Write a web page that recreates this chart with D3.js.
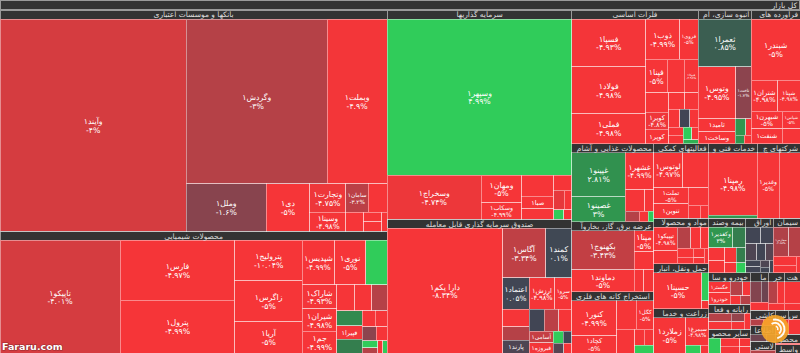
<!DOCTYPE html>
<html><head><meta charset="utf-8">
<script src="https://cdn.jsdelivr.net/npm/d3@7"></script>
<style>
html,body{margin:0;padding:0;background:#333;}
svg{display:block;}
text{font-family:"DejaVu Sans",sans-serif;}
</style></head><body>
<svg id="chart" width="800" height="353"></svg>
<script>
// ---- DATA: [symbol, relative size, % change] ----
const banks = [
 ["وآیند۱",39432,-4],["وگردش۱",23100,-3],["وبملت۱",9900,-4.9],["وملل۱",3760,-1.6],
 ["دی۱",2068,-5],["وتجارت۱",1015,-4.75],["وسینا۱",680,-4.98],["سامان۱",640,-3.2],
 ["",532,-5],["",342,-5],["",170,-5],["",170,-5],["",100,-5]];
const chemicals = [
 ["تاپیکو۱",12876,-4.01],["فارس۱",6549,-4.97],["پترول۱",5772,-4.99],["پترولیج۱",2600,-10.04],
 ["زاگرس۱",2600,-5],["آریا۱",2015,-5],["شپدیس۱",1368,-4.99],["نوری۱",1292,-5],["",912,5],
 ["شاراک۱",806,-4.93],["شیران۱",744,-4.98],["جم۱",713,-4.99],["",442,-5],["",416,-5],
 ["",390,-3],["",364,2.5],["قپیرا۱",323,-4.9],["",323,2],["",204,-5],["",187,-5],["",187,-1.7],
 ["",150,-5],["",100,5],["",80,-3],["",60,-5],["",50,5]];
const investment = [
 ["وسپهر۱",28888,4.99],["وسخراج۱",4171,-4.74],["ومهان۱",1134,-5],["وسکاب۱",672,-4.99],
 ["",672,-5],["صبا۱",400,-5],["",336,-5],["",280,-5],["",200,-4.5],["",150,-5],["",100,5],["",80,-5]];
const etf = [
 ["دارا یکم۱",14012,-8.34],["آگاس۱",2068,-3.34],["کمند۱",1269,0.1],["اعتماد۱",812,0.05],
 ["ارزش۱",783,-4.98],["سرو۱",528,-5],["",464,-5],["",352,-3],["پارند۱",330,-0.3],["",315,0],
 ["",308,-3.2],["",276,-5],["آسامی۱",264,-3.5],["فیروزه۱",242,-4.9],["",120,5],["",100,0],["",100,-0.5],["",80,-5]];
const metals = [
 ["فسپا۱",3504,-4.93],["فولاد۱",3431,-4.98],["فملی۱",2190,-4.98],["ذوب۱",1360,-4.99],
 ["فروی۱",748,-5],["فپنا۱",720,-5],["",578,-5],["فنوکا۱",460,-4.98],["",442,-5],
 ["کویر۱",391,-4.8],["کوپر۱",322,-5],["",260,-5],["",221,-5],["",200,-5],["",182,0],
 ["",150,-5],["",120,-5],["",120,-5],["",100,5],["",80,-5],["",60,4]];
const construction = [
 ["ثعمرا۱",2491,0.85],["وتوس۱",1900,-4.95],["ثاخت۱",800,-1.7],["ثامید۱",476,-5],
 ["وساخت۱",442,-5],["",169,3],["",91,-5],["",70,3],["",60,-5]];
const refinery = [
 ["شبندر۱",3050,-5],["شتران۱",837,-4.98],["شپنا۱",713,-4.98],["شبهرن۱",544,-5],
 ["شنفت۱",480,-5],["شپاس۱",306,-5],["",270,-5]];
const food = [
 ["غپینو۱",2464,2.81],["غصینو۱",1400,3],["غشهر۱",1107,-4.99],["",432,-5],["",200,-5],
 ["",150,-3],["",100,-5],["",60,5]];
const electricity = [
 ["بکهنوج۱",2457,-3.43],["دماوند۱",1386,-5],["مپنا۱",420,-5],["",360,-5],["",220,-5],["",220,-5]];
const mining = [
 ["کنور۱",1564,-4.99],["کچاد۱",782,-5],["",567,-5],["کگل۱",494,-5],["",432,-5],
 ["",150,-5],["",150,-5],["",150,5]];
const support = [
 ["لوتوس۱",990,-4.97],["",875,-5],["تملت۱",544,-5],["تنوین۱",476,-5],["",357,-5],["",150,-5],["",100,-5]];
const techServices = [["رمپنا۱",2940,-4.98],["",120,3]];
const multiSector = [["وغدیر۱",1430,-5],["",1365,-5]];
const pharma = [
 ["تیپیکو۱",792,-4.98],["",450,-5],["",400,-3],["",300,-5],["",250,-5],["",200,-5],
 ["",150,-5],["",150,-5],["",100,-5],["",100,-5]];
const transport = [["حسینا۱",1764,-5],["",196,5],["",56,-5]];
const agriculture = [["زملارد۱",1184,-5],["سیمرغ۱",667,-4.98],["",120,5],["",64,-5]];
const insurance = [
 ["وکغدیر۱",528,3],["",280,2],["",220,-5],["",200,-5],["",180,-5],["",150,2],["",120,-5],["",100,5]];
const bonds = [
 ["",300,0],["",250,0],["",220,-0.3],["",180,0],["",150,-0.5],["",120,0],["",100,0],["",80,-0.3],["",60,0],["",52,0]];
const cement = [["سفارس۱",540,-2.85],["",400,-3],["",250,-5],["",200,-5],["",68,-5]];
const auto = [["خگستر۱",336,-5],["خودرو۱",336,-5],["",250,-3],["",150,-5],["",120,-5],["",120,-3]];
const computer = [["",300,-3],["",250,-5],["",180,-2],["",150,-5],["",145,-5]];
const nonMetal = [["",288,5],["",250,-5],["",200,-5],["",146,-5],["",100,-5]];
const machinery = [["",300,-1.5],["",200,-1],["",193,-5]];
const infoComm = [["",250,-1],["",146,-0.5]];
const hotel = [["",450,-5],["",144,-5]];
const retail = [["",250,-3],["",200,-5],["",150,-5]];
const tiles = [["",200,-3],["",200,-5]];
const rubber = [["",300,-3]];
const metalProducts = [["",276,-5]];
const commDevices = [["",300,-5]];
const paper = [["",250,-5]];
const finIntermed = [["",200,-5]];

const sectorNames = [
 "بانکها و موسسات اعتباری","محصولات شیمیایی","سرمایه گذاریها","صندوق سرمایه گذاری قابل معامله",
 "فلزات اساسی","انبوه سازی، املاک و مستغلات","فراورده های نفتی، کک و سوخت هسته ای",
 "محصولات غذایی و آشامیدنی به جز قند و شکر","عرضه برق، گاز، بخاروآب گرم","استخراج کانه های فلزی",
 "فعالیتهای کمکی به نهادهای مالی واسط","خدمات فنی و مهندسی","شرکتهای چند رشته ای صنعتی",
 "مواد و محصولات دارویی","حمل ونقل، انبارداری و ارتباطات","زراعت و خدمات وابسته",
 "بیمه وصندوق بازنشستگی به جز تامین اجتماعی","اوراق تامین مالی","سیمان، آهک و گچ",
 "خودرو و ساخت قطعات","رایانه و فعالیتهای وابسته به آن","سایر محصولات کانی غیرفلزی",
 "ماشین آلات و تجهیزات","اطلاعات و ارتباطات","هتل و رستوران","خرده فروشی،باستثنای وسایل نقلیه موتوری",
 "کاشی و سرامیک","لاستیک و پلاستیک","ساخت محصولات فلزی","ساخت دستگاهها و وسایل ارتباطی",
 "محصولات کاغذی","واسطه گریهای مالی و پولی"];
const sectorSizes = [85692,47092,38640,24656,16875,7100,6500,6400,5750,5000,4070,3626,3182,
 2530,2460,2440,1998,1512,1458,1312,1025,984,693,396,594,600,400,300,276,300,250,200];
const sectorStocks = [banks,chemicals,investment,etf,metals,construction,refinery,food,electricity,
 mining,support,techServices,multiSector,pharma,transport,agriculture,insurance,bonds,cement,auto,
 computer,nonMetal,machinery,infoComm,hotel,retail,tiles,rubber,metalProducts,commDevices,paper,finIntermed];
const rootTitle = "کل بازار";

// ---- BUILD ----
const W = 800, H = 353;
const rootData = {name: rootTitle, children: sectorNames.map((n,i)=>{
  const rows = sectorStocks[i];
  const ws = d3.sum(rows, r=>r[1]);
  return {name:n, children: rows.map(r=>({name:r[0], value:r[1]*sectorSizes[i]/ws, pct:r[2]}))};
})};
const root = d3.hierarchy(rootData).sum(d=>d.value||0).sort((a,b)=>b.value-a.value);
d3.treemap().size([W,H]).tile(d3.treemapSquarify)
  .paddingTop(d=>d.depth===0?10:9)(root);

const color = d3.scaleLinear()
  .domain([-5,-3.33,-1.67,0,1.67,3.33,5])
  .range(["#f63538","#bf4045","#8b444e","#414554","#35764e","#2f9e4f","#30cc5a"])
  .clamp(true);

const svg = d3.select("#chart");
svg.append("rect").attr("width",W).attr("height",H).attr("fill","#333");
svg.append("rect").attr("x",0.5).attr("y",0.5).attr("width",W-1).attr("height",9)
  .attr("fill","#333").attr("stroke","#999");
svg.append("text").attr("x",W-3).attr("y",7.5).attr("text-anchor","end")
  .attr("font-size",7.5).attr("fill","#ddd").text(rootTitle);

const sectors = root.children;
svg.append("g").selectAll("rect").data(sectors).join("rect")
  .attr("x",d=>d.x0).attr("y",d=>d.y0).attr("width",d=>d.x1-d.x0).attr("height",d=>d.y1-d.y0)
  .attr("fill","#333").attr("stroke","#9a9a9a").attr("stroke-width",1).attr("shape-rendering","crispEdges");

const leaves = root.leaves();
svg.append("g").selectAll("rect").data(leaves).join("rect")
  .attr("x",d=>d.x0).attr("y",d=>d.y0).attr("width",d=>d.x1-d.x0).attr("height",d=>d.y1-d.y0)
  .attr("fill",d=>color(d.data.pct)).attr("stroke","rgba(255,255,255,0.42)").attr("stroke-width",1)
  .attr("shape-rendering","crispEdges");

// sector headers
const hg = svg.append("g");
sectors.forEach(d=>{
  const w = d.x1-d.x0;
  if (w < 8) return;
  const t = hg.append("text").attr("y",d.y0+7.3).attr("font-size",7.5).attr("fill","#ddd").text(d.data.name);
  let s = d.data.name;
  if (t.node().getComputedTextLength() <= w-4) {
    t.attr("x",(d.x0+d.x1)/2).attr("text-anchor","middle");
  } else {
    while (s.length>1 && t.node().getComputedTextLength() > w-4) { s = s.slice(0,-1); t.text(s); }
    t.attr("x",d.x1-2).attr("text-anchor","end");
  }
});

// leaf labels
const fa = s => s.replace(/\d/g, c=>"۰۱۲۳۴۵۶۷۸۹"[+c]);
const fmtPct = v => fa(String(Math.round(v*100)/100)) + "%";
const lg = svg.append("g").attr("fill","#fff");
leaves.filter(d=>d.data.name).forEach(d=>{
  const w=d.x1-d.x0, h=d.y1-d.y0, cx=(d.x0+d.x1)/2, cy=(d.y0+d.y1)/2;
  if (w<12 || h<8) return;
  const two = h>=16;
  let fs = two ? Math.min(7.8, (h-2)/2.3) : Math.min(6.5, h*0.6);
  const t1 = lg.append("text").attr("x",cx).attr("text-anchor","middle").attr("font-size",fs).text(d.data.name);
  let t2 = null;
  if (two) t2 = lg.append("text").attr("x",cx).attr("text-anchor","middle").attr("font-size",fs).text(fmtPct(d.data.pct));
  let tw = t1.node().getComputedTextLength();
  if (t2) tw = Math.max(tw, t2.node().getComputedTextLength());
  if (tw > w-4) { fs = fs*(w-4)/tw; t1.attr("font-size",fs); if (t2) t2.attr("font-size",fs); }
  if (t2) {
    t1.attr("y", cy - 0.15*fs);
    t2.attr("y", cy + 0.95*fs);
  } else {
    t1.attr("y", cy + 0.35*fs);
  }
});

// watermark
svg.append("text").attr("x",2).attr("y",350).attr("font-family","Liberation Sans, Arial, sans-serif")
  .attr("font-weight","bold").attr("font-size",9.5).attr("fill","#fff")
  .attr("stroke","rgba(0,0,0,0.35)").attr("stroke-width",1.2).attr("paint-order","stroke").text("Fararu.com");
const logo = svg.append("g").attr("transform","translate(775,329)");
logo.append("circle").attr("r",14).attr("fill","#f5a52a").attr("opacity",0.92);
const arc = d3.arc();
[[5,7,-0.6,2.4],[8.5,10.5,-0.2,2.9],[2,3.6,0.3,2.0]].forEach(a=>{
  logo.append("path").attr("d",arc({innerRadius:a[0],outerRadius:a[1],startAngle:a[2],endAngle:a[3]}))
    .attr("fill","#fff").attr("opacity",0.95);
});
</script>
</body></html>
